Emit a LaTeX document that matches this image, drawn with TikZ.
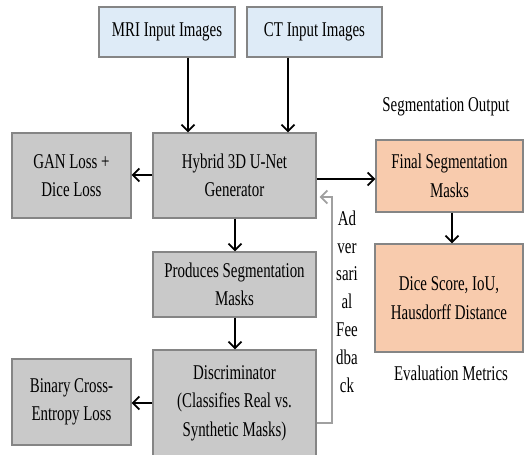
\documentclass[tikz,border=0pt]{standalone}
\usepackage{fontspec}
\setmainfont{Liberation Serif}[FakeStretch=0.71]
\usetikzlibrary{arrows.meta}
\definecolor{bluefill}{HTML}{DEEBF7}
\definecolor{grayfill}{HTML}{C9C9C9}
\definecolor{orangefill}{HTML}{F8CBAD}
\definecolor{boxborder}{HTML}{858585}
\definecolor{fbgray}{HTML}{A0A0A0}
\tikzset{
  box/.style={draw=boxborder, line width=1.3pt, inner sep=0pt, align=center,
    font=\fontsize{21}{28.5}\selectfont},
  bluebox/.style={box, fill=bluefill},
  graybox/.style={box, fill=grayfill},
  orangebox/.style={box, fill=orangefill},
  lbl/.style={inner sep=0pt, align=center, font=\fontsize{21}{28.5}\selectfont},
  arr/.style={-{Straight Barb[length=6.5pt,width=13pt,line width=1.8pt]}, line width=1.8pt, black},
}
\begin{document}
\begin{tikzpicture}[x=1pt,y=-1pt]
\useasboundingbox (0,0) rectangle (531,455);
\fill[white] (0,0) rectangle (531,455);

\node[bluebox, minimum width=136pt, minimum height=50pt] (mri) at (167,32) {MRI Input Images};
\node[bluebox, minimum width=135pt, minimum height=50pt] (ct) at (314.5,32) {CT Input Images};
\node[graybox, minimum width=163pt, minimum height=85pt] (gen) at (234.5,175.5) {Hybrid 3D U-Net\\Generator};
\node[graybox, minimum width=119pt, minimum height=85pt] (gan) at (71.5,175.5) {GAN Loss +\\Dice Loss};
\node[orangebox, minimum width=147pt, minimum height=72pt] (final) at (449.5,176) {Final Segmentation\\Masks};
\node[lbl] (segout) at (446,107) {Segmentation Output};
\node[graybox, minimum width=163pt, minimum height=65pt] (prod) at (234.5,284.5) {Produces Segmentation\\Masks};
\node[graybox, minimum width=163pt, minimum height=106pt] (disc) at (234.5,403) {Discriminator\\(Classifies Real vs.\\Synthetic Masks)};
\node[graybox, minimum width=119pt, minimum height=86pt] (bce) at (71.5,402) {Binary Cross-\\Entropy Loss};
\node[orangebox, minimum width=148pt, minimum height=108pt] (dice) at (449,298) {Dice Score, IoU,\\Hausdorff Distance};
\node[lbl] (eval) at (451,373) {Evaluation Metrics};
\node[lbl, font=\fontsize{21}{27.8}\selectfont] (fbtext) at (347,301.5) {Ad\\ver\\sari\\al\\Fee\\dba\\ck};

\coordinate (fbA) at (332,423);
\coordinate (fbB) at (332,197);

\draw[arr] (mri.south -| 188,0) -- (gen.north -| 188,0);
\draw[arr] (ct.south -| 288,0) -- (gen.north -| 288,0);
\draw[arr] (gen.west |- 0,175) -- (gan.east |- 0,175);
\draw[arr] (gen.east |- 0,179) -- (final.west |- 0,179);
\draw[arr] (gen.south -| 235,0) -- (prod.north -| 235,0);
\draw[arr] (prod.south -| 235,0) -- (disc.north -| 235,0);
\draw[arr] (disc.west |- 0,403) -- (bce.east |- 0,403);
\draw[arr] (final.south -| 452,0) -- (dice.north -| 452,0);
\draw[arr, fbgray, line width=1.3pt] (disc.east |- fbA) -- (fbA) -- (fbB) -- ([xshift=3pt]gen.east |- fbB);
\end{tikzpicture}
\end{document}
